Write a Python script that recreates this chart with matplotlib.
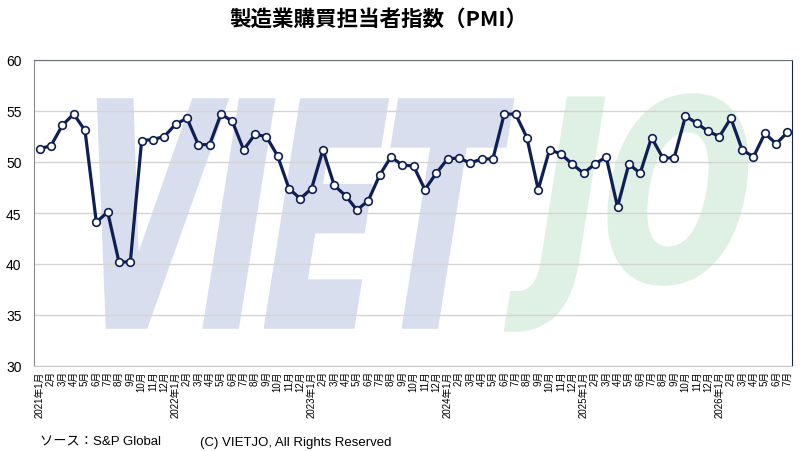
import matplotlib
matplotlib.use("Agg")
import matplotlib.pyplot as plt
from matplotlib.textpath import TextPath
from matplotlib.patches import PathPatch
from matplotlib.font_manager import FontProperties
from matplotlib.transforms import Affine2D

plt.rcParams['font.family'] = ['Liberation Sans', 'Noto Sans CJK JP', 'DejaVu Sans']

# PMI values, Jan 2021 - Jul 2026
pmi_2021 = [51.3, 51.6, 53.6, 54.7, 53.1, 44.1, 45.1, 40.2, 40.2, 52.1, 52.2, 52.5]
pmi_2022 = [53.7, 54.3, 51.7, 51.7, 54.7, 54.0, 51.2, 52.7, 52.5, 50.6, 47.4, 46.4]
pmi_2023 = [47.4, 51.2, 47.7, 46.7, 45.3, 46.2, 48.7, 50.5, 49.7, 49.6, 47.3, 48.9]
pmi_2024 = [50.3, 50.4, 49.9, 50.3, 50.3, 54.7, 54.7, 52.4, 47.3, 51.2, 50.8, 49.8]
pmi_2025 = [48.9, 49.8, 50.5, 45.6, 49.8, 48.9, 52.4, 50.4, 50.4, 54.5, 53.8, 53.0]
pmi_2026 = [52.5, 54.3, 51.2, 50.5, 52.8, 51.8, 52.9]
years = [2021, 2022, 2023, 2024, 2025, 2026]

values = pmi_2021 + pmi_2022 + pmi_2023 + pmi_2024 + pmi_2025 + pmi_2026
labels = []
for y in years:
    for m in range(1, 13):
        if len(labels) == len(values):
            break
        labels.append(f"{y}年{m}月" if m == 1 else f"{m}月")
x = list(range(len(values)))

fig = plt.figure(figsize=(8, 4.52), dpi=100)
ax = fig.add_axes([34/800, 1 - 367/452, 758/800, 306/452])
ax.set_xlim(-0.5, len(values) - 0.6)
ax.set_ylim(30, 60)

# watermark, placed in pixel terms then converted to axes fraction
W, H = 758.0, 306.0
def watermark(text, left, right, top, bottom, color, slant=9):
    fp = FontProperties(family='DejaVu Sans', weight='bold')
    tp = TextPath((0, 0), text, size=100, prop=fp)
    ext = tp.get_extents()
    h = bottom - top
    shift = h * 0.158
    w = (right - left) - shift
    tr = (Affine2D().translate(-ext.x0, -ext.y0)
          .scale(w / ext.width, h / ext.height)
          .skew_deg(slant, 0)
          .translate(left - 34, 367 - bottom)
          .scale(1 / W, 1 / H))
    ax.add_patch(PathPatch(tr.transform_path(tp), transform=ax.transAxes,
                           facecolor=color, edgecolor=color, linewidth=4,
                           joinstyle='miter', zorder=0.1))

watermark("VIET", 64, 511, 102, 327, '#d8deee')
watermark("JO", 507, 758, 97, 330, '#dff0e4')

ax.set_axisbelow(True)
ax.yaxis.grid(True, color='#d4d4d4', linewidth=1)
ax.plot(x, values, color='#0f1f55', linewidth=2.3, marker='o', markersize=5.5,
        markerfacecolor='white', markeredgecolor='#0f1f55', markeredgewidth=1.2,
        zorder=3)

ax.set_yticks([30, 35, 40, 45, 50, 55, 60])
ax.tick_params(axis='y', length=0, pad=9, labelsize=10)
ax.set_xticks(x)
ax.set_xticklabels(labels, rotation=90, fontsize=7)
ax.tick_params(axis='x', length=0, pad=3)

ax.spines['left'].set_color('#8a8a8a')
ax.spines['top'].set_color('#6a6f7a')
ax.spines['right'].set_color('#1a2540')
ax.spines['bottom'].set_color('#c8c8c8')

fig.text(0.4725, 0.958, "製造業購買担当者指数（PMI）", ha='center', va='center',
         fontsize=15.5, fontweight='bold', family=['Noto Sans CJK JP', 'DejaVu Sans'])
fig.text(40/800, 0.02, "ソース：S&P Global", ha='left', va='center', fontsize=9.5)
fig.text(200/800, 0.02, "(C) VIETJO, All Rights Reserved", ha='left', va='center',
         fontsize=9.5)

fig.savefig("out.png", dpi=100)
